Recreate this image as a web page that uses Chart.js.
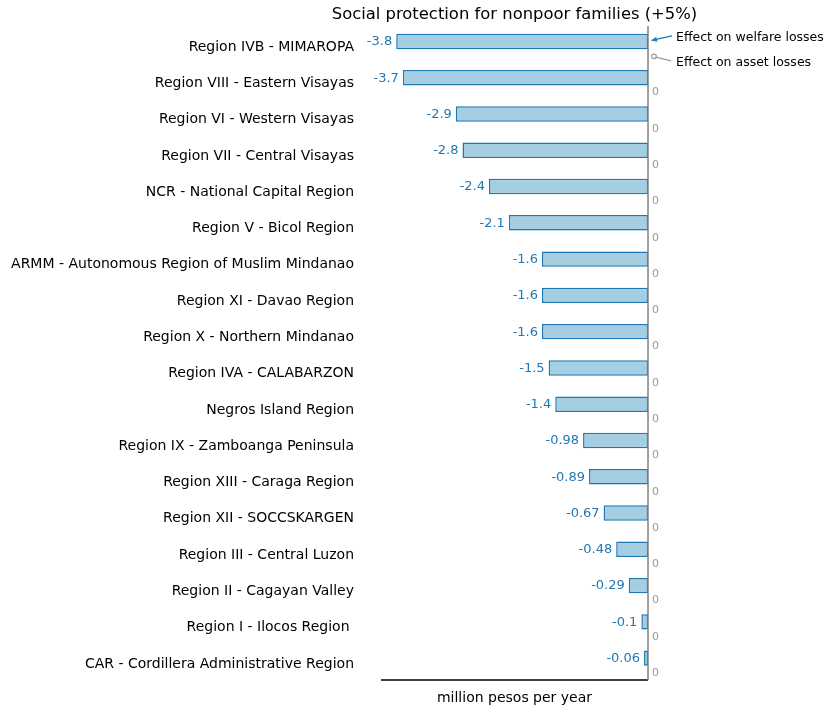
<!DOCTYPE html>
<html>
<head>
<meta charset="utf-8">
<script src="https://cdn.jsdelivr.net/npm/chart.js@4/dist/chart.umd.min.js"></script>
<style>
  html, body { margin: 0; padding: 0; background: #fff; }
  #wrap { width: 834px; height: 710px; }
</style>
</head>
<body>
<div id="wrap"><canvas id="grafico"></canvas></div>
<script>
// Datos
const regiones = [
  'Region IVB - MIMAROPA',
  'Region VIII - Eastern Visayas',
  'Region VI - Western Visayas',
  'Region VII - Central Visayas',
  'NCR - National Capital Region',
  'Region V - Bicol Region',
  'ARMM - Autonomous Region of Muslim Mindanao',
  'Region XI - Davao Region',
  'Region X - Northern Mindanao',
  'Region IVA - CALABARZON',
  'Negros Island Region',
  'Region IX - Zamboanga Peninsula',
  'Region XIII - Caraga Region',
  'Region XII - SOCCSKARGEN',
  'Region III - Central Luzon',
  'Region II - Cagayan Valley',
  'Region I - Ilocos Region ',
  'CAR - Cordillera Administrative Region'
];
const efectoBienestar = [-3.8, -3.7, -2.9, -2.8, -2.4, -2.1, -1.6, -1.6, -1.6, -1.5, -1.4, -0.98, -0.89, -0.67, -0.48, -0.29, -0.1, -0.06];
const efectoActivos = [0, 0, 0, 0, 0, 0, 0, 0, 0, 0, 0, 0, 0, 0, 0, 0, 0, 0];
const titulo = 'Social protection for nonpoor families (+5%)';
const tituloEje = 'million pesos per year';
const leyendaBienestar = 'Effect on welfare losses';
const leyendaActivos = 'Effect on asset losses';

const fuente = 'DejaVu Sans';
const azul = '#1f78b4';
const gris = '#999999';

// Título, ejes, etiquetas y anotaciones
const extras = {
  id: 'extras',
  afterDatasetsDraw(chart) {
    const ctx = chart.ctx;
    const x = chart.scales.x;
    const x0 = x.getPixelForValue(0);
    const area = chart.chartArea;
    const barras = chart.getDatasetMeta(0).data;
    const ceros = chart.getDatasetMeta(1).data;
    const yBase = area.bottom - 4;

    ctx.save();
    // título centrado sobre el área del gráfico
    ctx.font = '16.4px ' + fuente;
    ctx.fillStyle = '#000';
    ctx.textAlign = 'center';
    ctx.textBaseline = 'middle';
    ctx.fillText(titulo, (area.left + area.right) / 2, 15);

    // eje inferior
    ctx.strokeStyle = '#000';
    ctx.lineWidth = 1.5;
    ctx.beginPath();
    ctx.moveTo(area.left, yBase);
    ctx.lineTo(x0, yBase);
    ctx.stroke();

    // línea vertical en cero
    ctx.strokeStyle = '#808080';
    ctx.beginPath();
    ctx.moveTo(x0, area.top - 5);
    ctx.lineTo(x0, yBase);
    ctx.stroke();

    // valores de bienestar
    ctx.font = '13px ' + fuente;
    ctx.textAlign = 'right';
    ctx.fillStyle = azul;
    barras.forEach((b, i) => {
      ctx.fillText(String(efectoBienestar[i]), b.x - 4, b.y + 0.5);
    });

    // valores de activos
    ctx.font = '11px ' + fuente;
    ctx.textAlign = 'left';
    ctx.fillStyle = gris;
    ceros.forEach((b, i) => {
      if (i === 0) return;
      ctx.fillText(String(efectoActivos[i]), b.x + 4, b.y - 0.5);
    });

    // anotaciones
    const b1 = barras[0];
    const c1 = ceros[0];
    const tx = x0 + 28;
    ctx.font = '12.5px ' + fuente;
    ctx.fillStyle = '#000';
    ctx.fillText(leyendaBienestar, tx, b1.y - 3.5);
    ctx.fillText(leyendaActivos, tx, c1.y + 6);

    // flecha azul
    ctx.strokeStyle = azul;
    ctx.fillStyle = azul;
    ctx.lineWidth = 1.2;
    const ax = x0 + 3.5, ay = b1.y - 1;
    const sx = x0 + 24, sy = b1.y - 5.5;
    ctx.beginPath();
    ctx.moveTo(sx, sy);
    ctx.lineTo(ax, ay);
    ctx.stroke();
    const ang = Math.atan2(ay - sy, ax - sx);
    ctx.beginPath();
    ctx.moveTo(ax, ay);
    ctx.lineTo(ax - 6 * Math.cos(ang - 0.45), ay - 6 * Math.sin(ang - 0.45));
    ctx.lineTo(ax - 6 * Math.cos(ang + 0.45), ay - 6 * Math.sin(ang + 0.45));
    ctx.closePath();
    ctx.fill();

    // línea gris con círculo
    ctx.strokeStyle = gris;
    ctx.lineWidth = 1.2;
    const cx = x0 + 6, cy = c1.y - 0.5;
    ctx.beginPath();
    ctx.moveTo(x0 + 23, c1.y + 4);
    ctx.lineTo(cx + 2, cy + 0.8);
    ctx.stroke();
    ctx.beginPath();
    ctx.arc(cx, cy, 2.3, 0, Math.PI * 2);
    ctx.stroke();
    ctx.restore();
  }
};

new Chart(document.getElementById('grafico'), {
  type: 'bar',
  data: {
    labels: regiones,
    datasets: [
      {
        label: leyendaBienestar,
        data: efectoBienestar,
        backgroundColor: '#a6cee3',
        borderColor: azul,
        borderWidth: 1.5,
        borderSkipped: false
      },
      {
        label: leyendaActivos,
        data: efectoActivos,
        backgroundColor: '#cccccc',
        borderWidth: 0
      }
    ]
  },
  options: {
    indexAxis: 'y',
    responsive: true,
    maintainAspectRatio: false,
    animation: false,
    categoryPercentage: 0.85,
    barPercentage: 1.0,
    layout: { padding: { left: 0, right: 186, top: 31, bottom: 0 } },
    plugins: {
      legend: { display: false },
      tooltip: { enabled: false },
      title: { display: false }
    },
    scales: {
      x: {
        min: -4.03,
        max: 0,
        ticks: { display: false },
        grid: { display: false, drawTicks: false },
        border: { display: false },
        title: {
          display: true,
          text: tituloEje,
          color: '#000',
          font: { family: fuente, size: 14 },
          padding: { top: 6, bottom: 3 }
        },
        afterFit(s) {
          s.height = 26;
          s.paddingLeft = 0;
          s.paddingRight = 0;
        }
      },
      y: {
        ticks: {
          color: '#000',
          font: { family: fuente, size: 14 },
          padding: 27,
          labelOffset: -2
        },
        grid: { display: false, drawTicks: false },
        border: { display: false },
        afterFit(s) {
          s.width = 381;
          s.paddingTop = 0;
          s.paddingBottom = 0;
        }
      }
    }
  },
  plugins: [extras]
});
</script>
</body>
</html>
